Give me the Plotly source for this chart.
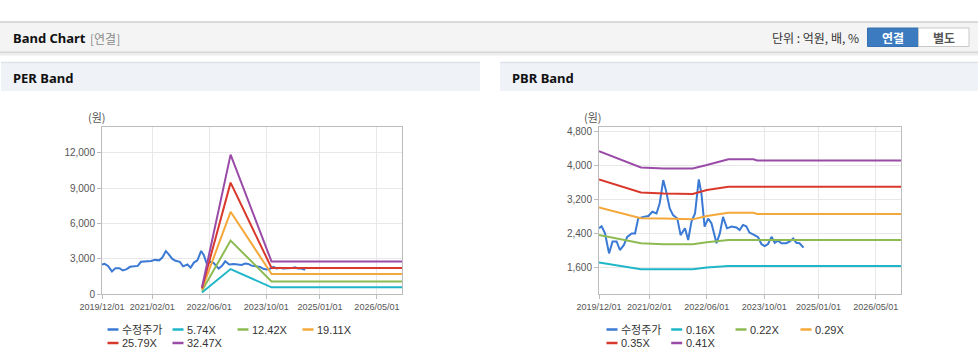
import plotly.graph_objects as go

W, H = 978, 361

# ---------------- data ----------------
price_dates = ["2019-12-01","2019-12-23","2020-01-21","2020-02-24","2020-03-25","2020-04-28","2020-05-26","2020-06-29","2020-07-27","2020-09-03",
               "2020-10-01","2020-10-28","2020-12-10","2021-01-22","2021-02-25","2021-04-01","2021-04-28","2021-05-28","2021-06-19","2021-07-22",
               "2021-08-19","2021-09-24","2021-10-22","2021-11-28","2021-12-25","2022-01-22","2022-02-21","2022-03-25","2022-04-16","2022-05-13",
               "2022-06-12","2022-07-10","2022-08-22","2022-09-19","2022-10-16","2022-11-19","2022-12-28","2023-02-06","2023-03-06","2023-04-03",
               "2023-05-01","2023-05-28","2023-07-10","2023-08-09","2023-09-06","2023-10-04","2023-11-01","2023-12-01","2023-12-28","2024-01-25",
               "2024-02-22","2024-04-04","2024-05-04","2024-06-01","2024-06-28","2024-07-25","2024-08-28"]
price = [2510,2560,2390,1920,2200,2200,2000,2120,2310,2390,
         2390,2740,2780,2800,2900,2860,3100,3645,3410,2980,
         2820,2740,2350,2510,2235,2670,2860,3660,3330,2550,
         2740,2630,2160,2390,2780,2510,2550,2530,2470,2590,
         2560,2410,2350,2300,2140,2090,2140,2310,2170,2220,
         2160,2160,2200,2270,2170,2160,2055]

per_band_dates = ["2022-04-01","2022-12-01","2023-11-15","2027-01-01"]
per_names = ["5.74X","12.42X","19.11X","25.79X","32.47X"]
per_574 = [120, 2120, 570, 570]
per_1242 = [280, 4540, 1070, 1070]
per_1911 = [400, 6990, 1700, 1700]
per_2579 = [480, 9470, 2210, 2210]
per_3247 = [560, 11850, 2760, 2760]

pbr_band_dates = ["2019-12-01","2020-11-20","2021-06-01","2022-02-01","2022-06-01","2022-09-15","2022-12-01","2023-07-01","2023-08-01","2027-01-01"]
pbr_names = ["0.16X","0.22X","0.29X","0.35X","0.41X"]
pbr_016 = [1705,1550,1546,1546,1590,1610,1623,1623,1623,1623]
pbr_022 = [2352,2157,2133,2133,2180,2210,2235,2235,2235,2235]
pbr_029 = [3003,2745,2740,2721,2800,2840,2878,2878,2847,2847]
pbr_035 = [3661,3355,3332,3320,3410,3449,3488,3488,3488,3488]
pbr_041 = [4326,3943,3920,3920,3998,4076,4135,4135,4105,4105]

tick_dates = ["2019-12-01","2021-02-01","2022-06-01","2023-10-01","2025-01-01","2026-05-01"]
tick_text = ["2019/12/01","2021/02/01","2022/06/01","2023/10/01","2025/01/01","2026/05/01"]
per_yticks = [0, 3000, 6000, 9000, 12000]
pbr_yticks = [1600, 2400, 3200, 4000, 4800]

price_name = "수정주가"
band_colors = ["#1fb6c8", "#8dbb52", "#f5a83a", "#d9382c", "#9a4ba7"]
price_color = "#3a79d4"

FONT = "Liberation Sans, Arial, Noto Sans CJK KR, sans-serif"
KFONT = "Noto Sans CJK KR, Noto Sans, sans-serif"


def px(x):
    return x / W


def py(y):
    return 1 - y / H


fig = go.Figure()

# PER chart
fig.add_trace(go.Scatter(x=price_dates, y=price, name=price_name, mode="lines",
                         line=dict(color=price_color, width=2), xaxis="x", yaxis="y"))
for i, (nm, vals) in enumerate(zip(per_names, [per_574, per_1242, per_1911, per_2579, per_3247])):
    fig.add_trace(go.Scatter(x=per_band_dates, y=vals, name=nm, mode="lines",
                             line=dict(color=band_colors[i], width=2), xaxis="x", yaxis="y"))

# PBR chart
fig.add_trace(go.Scatter(x=price_dates, y=price, name=price_name, mode="lines",
                         line=dict(color=price_color, width=2), xaxis="x2", yaxis="y2"))
for i, (nm, vals) in enumerate(zip(pbr_names, [pbr_016, pbr_022, pbr_029, pbr_035, pbr_041])):
    fig.add_trace(go.Scatter(x=pbr_band_dates, y=vals, name=nm, mode="lines",
                             line=dict(color=band_colors[i], width=2), xaxis="x2", yaxis="y2"))

axis_common = dict(showgrid=True, gridcolor="#e8e8e8", gridwidth=1, showline=True, linecolor="#bcbcbc",
                   linewidth=1, mirror=True, ticks="outside", ticklen=4, tickcolor="#bcbcbc",
                   tickfont=dict(family=FONT, size=10, color="#555555"), zeroline=False,
                   fixedrange=True, automargin=False)

xcommon = dict(axis_common, type="date", range=["2019-12-01", "2026-12-01"], tickangle=0,
               tickmode="array", tickvals=tick_dates, ticktext=tick_text,
               tickfont=dict(family=FONT, size=9, color="#555555"))

ydom = [py(294), py(127)]

fig.update_layout(
    width=W, height=H, margin=dict(l=0, r=0, t=0, b=0, pad=0, autoexpand=False),
    paper_bgcolor="white", plot_bgcolor="white",
    font=dict(family=FONT, color="#333333"),
    xaxis=dict(xcommon, domain=[px(102), px(402)], anchor="y"),
    yaxis=dict(axis_common, domain=ydom, range=[0, 14200], tickmode="array",
               tickvals=per_yticks, tickformat=",", anchor="x"),
    xaxis2=dict(xcommon, domain=[px(599), px(901)], anchor="y2"),
    yaxis2=dict(axis_common, domain=ydom, range=[965, 4894], tickmode="array",
                tickvals=pbr_yticks, tickformat=",", anchor="x2"),
    showlegend=False,
)

shapes = []
# top header bar
shapes.append(dict(type="rect", xref="paper", yref="paper", x0=0, x1=1, y0=py(52), y1=py(22),
                   fillcolor="#f4f4f4", line=dict(width=0), layer="below"))
shapes.append(dict(type="line", xref="paper", yref="paper", x0=0, x1=1, y0=py(22), y1=py(22),
                   line=dict(color="#d0d0d0", width=1.5)))
shapes.append(dict(type="line", xref="paper", yref="paper", x0=0, x1=1, y0=py(52.5), y1=py(52.5),
                   line=dict(color="#d6d6d6", width=2)))
shapes.append(dict(type="line", xref="paper", yref="paper", x0=0, x1=1, y0=py(54.5), y1=py(54.5),
                   line=dict(color="#eeeeee", width=2)))
# panel headers
for x0, x1 in [(1, 480), (500, 978)]:
    shapes.append(dict(type="rect", xref="paper", yref="paper", x0=px(x0), x1=px(x1), y0=py(91), y1=py(62),
                       fillcolor="#eff2f7", line=dict(width=0), layer="below"))
    shapes.append(dict(type="line", xref="paper", yref="paper", x0=px(x0), x1=px(x1), y0=py(62.5), y1=py(62.5),
                       line=dict(color="#dde1e8", width=1.5)))
# buttons
shapes.append(dict(type="rect", xref="paper", yref="paper", x0=px(867.5), x1=px(918.5), y0=py(46.5), y1=py(28),
                   fillcolor="#3c7bbf", line=dict(color="#3570b0", width=1)))
shapes.append(dict(type="rect", xref="paper", yref="paper", x0=px(918.5), x1=px(969), y0=py(46.5), y1=py(28),
                   fillcolor="#ffffff", line=dict(color="#c8c8c8", width=1)))

annotations = [
    dict(text="<b>Band Chart</b>", x=px(11), y=py(38), xanchor="left", yanchor="middle",
         font=dict(family="Noto Sans, Liberation Sans, sans-serif", size=13, color="#111111")),
    dict(text="[연결]", x=px(88), y=py(38), xanchor="left", yanchor="middle",
         font=dict(family=KFONT, size=12, color="#8a8a8a")),
    dict(text="단위 : 억원, 배, %", x=px(861), y=py(37.5), xanchor="right", yanchor="middle",
         font=dict(family=KFONT, size=12, color="#333333")),
    dict(text="<b>연결</b>", x=px(893), y=py(37.5), xanchor="center", yanchor="middle",
         font=dict(family=KFONT, size=12, color="#ffffff")),
    dict(text="<b>별도</b>", x=px(944), y=py(37.5), xanchor="center", yanchor="middle",
         font=dict(family=KFONT, size=12, color="#555555")),
    dict(text="<b>PER Band</b>", x=px(11), y=py(78), xanchor="left", yanchor="middle",
         font=dict(family="Noto Sans, Liberation Sans, sans-serif", size=13, color="#111111")),
    dict(text="<b>PBR Band</b>", x=px(510), y=py(78), xanchor="left", yanchor="middle",
         font=dict(family="Noto Sans, Liberation Sans, sans-serif", size=13, color="#111111")),
    dict(text="(원)", x=px(97), y=py(117), xanchor="center", yanchor="middle",
         font=dict(family=KFONT, size=11, color="#555555")),
    dict(text="(원)", x=px(592.5), y=py(117), xanchor="center", yanchor="middle",
         font=dict(family=KFONT, size=11, color="#555555")),
]

# legends (line swatch + label), laid out in two rows under each chart
def add_legend(names, colors, x_starts, rows):
    for k, (nm, col) in enumerate(zip(names, colors)):
        tx = x_starts[k % 4]
        ty = rows[k // 4]
        shapes.append(dict(type="line", xref="paper", yref="paper", x0=px(tx - 13.5), x1=px(tx - 2.5),
                           y0=py(ty), y1=py(ty), line=dict(color=col, width=2.5)))
        annotations.append(dict(text=nm, x=px(tx - 1), y=py(ty), xanchor="left", yanchor="middle",
                                font=dict(family=FONT, size=11, color="#333333")))

add_legend([price_name] + per_names, [price_color] + band_colors, [121, 186, 251, 316], [329.5, 343])
add_legend([price_name] + pbr_names, [price_color] + band_colors, [620, 684.7, 749, 814], [329.5, 343])

for a in annotations:
    a.update(xref="paper", yref="paper", showarrow=False)

fig.update_layout(shapes=shapes, annotations=annotations)

fig.write_html("out.html", config={"displayModeBar": False, "responsive": False},
               post_script="document.body.style.margin='0';document.body.style.overflow='hidden';")
